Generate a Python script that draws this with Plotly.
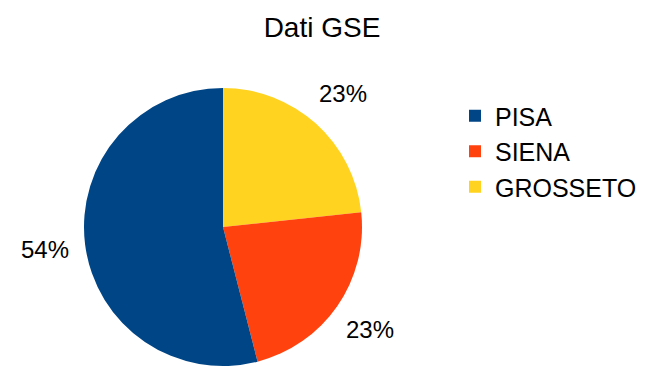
import math
import plotly.graph_objects as go

labels = ["PISA", "SIENA", "GROSSETO"]
values = [54.0, 22.7, 23.3]
colors = ["#004586", "#ff420e", "#ffd320"]

W, H = 658, 373
cx, cy, r = 223, 227, 139
FONT = "Liberation Sans, Arial, sans-serif"

# Drawn clockwise from 12 o'clock in reverse order (GROSSETO, SIENA, PISA)
order = list(reversed(range(len(labels))))
lab_d = [labels[i] for i in order]
val_d = [values[i] for i in order]
col_d = [colors[i] for i in order]

fig = go.Figure(go.Pie(
    labels=lab_d,
    values=val_d,
    sort=False,
    direction="clockwise",
    marker=dict(colors=col_d, line=dict(width=0)),
    textinfo="none",
    domain=dict(x=[(cx - r) / W, (cx + r) / W], y=[(H - cy - r) / H, (H - cy + r) / H]),
    hoverinfo="label+percent",
))

# percentage labels outside the slices, placed from the data
total = sum(val_d)
cum = 0.0
annotations = []
for v in val_d:
    mid = (cum + v / 2) / total * 2 * math.pi
    cum += v
    px = cx + 1.29 * r * math.sin(mid)
    py = cy - 1.29 * r * math.cos(mid)
    annotations.append(dict(
        x=px / W, y=1 - py / H, xref="paper", yref="paper",
        text=f"{round(v / total * 100)}%", showarrow=False,
        xanchor="center", yanchor="middle",
        font=dict(family=FONT, size=24, color="black"),
    ))

fig.update_layout(
    width=W, height=H,
    margin=dict(l=0, r=0, t=0, b=0),
    paper_bgcolor="white",
    plot_bgcolor="white",
    title=dict(text="Dati GSE", x=322 / W, xanchor="center", y=1 - 27 / H, yanchor="middle",
               font=dict(family=FONT, size=28, color="black")),
    legend=dict(x=455 / W, y=1 - 93 / H, xanchor="left", yanchor="top",
                traceorder="reversed",
                font=dict(family=FONT, size=25, color="black"),
                itemsizing="constant"),
    annotations=annotations,
    showlegend=True,
)

fig.write_html("out.html")
